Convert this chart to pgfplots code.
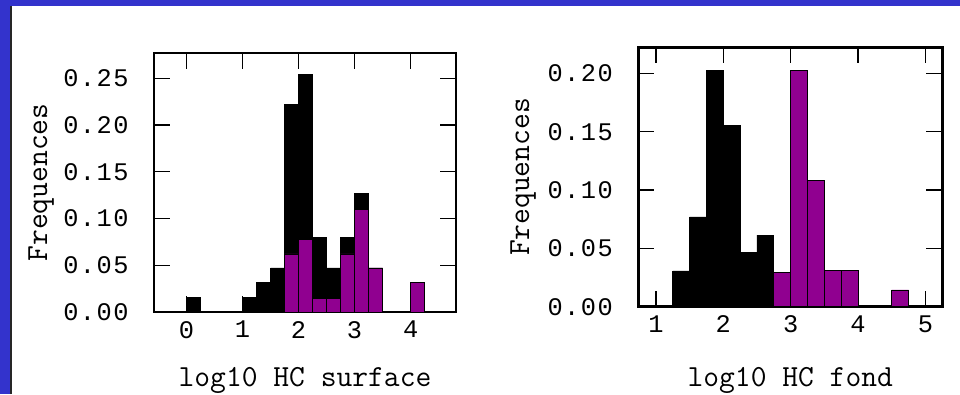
\documentclass[border=0pt]{standalone}
\usepackage{fontspec}
\usepackage{pgfplots}
\pgfplotsset{compat=1.18}
\newfontfamily\tickfont[LetterSpace=6]{Liberation Mono}
\definecolor{framebl}{RGB}{51,51,204}
\definecolor{hpurple}{RGB}{144,0,144}
\pgfplotsset{
  hist/.style={
    scale only axis,
    anchor=south west,
    axis line style={line width=2.2pt},
    tick align=inside,
    major tick length=12pt,
    tick style={line width=1pt, black},
    ymin=0,
    ytick={0,0.05,0.1,0.15,0.2,0.25},
    /pgf/number format/assume math mode=true,
    ticklabel style={font=\fontsize{19}{22}\selectfont\tickfont},
    yticklabel style={/pgf/number format/fixed,/pgf/number format/fixed zerofill,/pgf/number format/precision=2, xshift=-15.5pt},
    xticklabel style={yshift=-3.4pt},
    label style={font=\fontsize{23}{27}\selectfont\ttfamily},
  },
  blackbar/.style={ybar, bar width=0.25, bar shift=0pt, fill=black, draw=black, line width=0.6pt},
  purplebar/.style={ybar, bar width=0.25, bar shift=0pt, fill=hpurple, draw=black, line width=0.6pt},
}
\begin{document}
\begin{tikzpicture}
\useasboundingbox (0,0) rectangle (720pt,295.5pt);
\fill[framebl] (0,0) rectangle (720pt,295.5pt);
\fill[white] (7.5pt,0) rectangle (720pt,291pt);
\draw[line width=1.2pt, black!85] (8.1pt,0) -- (8.1pt,291pt);

\begin{axis}[hist,
  at={(115.5pt,61.5pt)}, width=226.5pt, height=194.25pt,
  xmin=-0.58, xmax=4.81, ymax=0.277,
  xtick={0,1,2,3,4},
  xlabel={log10 HC surface}, ylabel={Frequences},
  xlabel style={at={(axis description cs:0.5,0)}, anchor=base, yshift=-55.5pt},
  ylabel style={at={(axis description cs:-0.354,0.5)}, anchor=base},
]
\addplot[blackbar] coordinates {
  (0.125,0.0157) (1.125,0.0157) (1.375,0.0314) (1.625,0.0471)
  (1.875,0.2221) (2.125,0.2543) (2.375,0.0793) (2.625,0.0471)
  (2.875,0.0793) (3.125,0.1268) (3.375,0.0471)
};
\addplot[purplebar] coordinates {
  (1.875,0.0621) (2.125,0.0779) (2.375,0.0143) (2.625,0.0143)
  (2.875,0.0621) (3.125,0.1096) (3.375,0.0471) (4.125,0.0314)
};
\end{axis}

\begin{axis}[hist,
  at={(478.7pt,65.5pt)}, width=228pt, height=194.5pt,
  xmin=0.738, xmax=5.25, ymax=0.2223,
  xtick={1,2,3,4,5},
  xlabel={log10 HC fond}, ylabel={Frequences},
  xlabel style={at={(axis description cs:0.5,0)}, anchor=base, yshift=-59.5pt},
  ylabel style={at={(axis description cs:-0.359,0.5)}, anchor=base},
]
\addplot[blackbar] coordinates {
  (1.375,0.0306) (1.625,0.0769) (1.875,0.2026) (2.125,0.1554)
  (2.375,0.0463) (2.625,0.0614)
};
\addplot[purplebar] coordinates {
  (2.875,0.0294) (3.125,0.2026) (3.375,0.1080) (3.625,0.0310)
  (3.875,0.0310) (4.625,0.0143)
};
\end{axis}
\end{tikzpicture}
\end{document}
